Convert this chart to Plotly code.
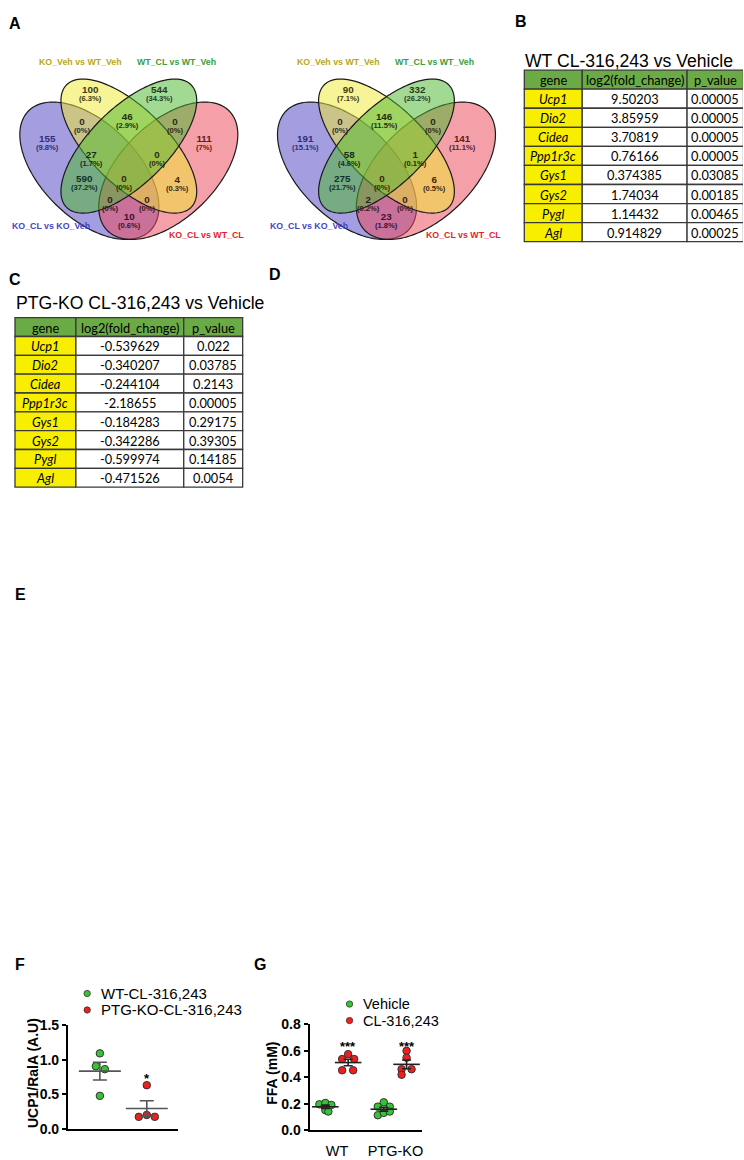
import numpy as np
import plotly.graph_objects as go

W, H = 744, 1160

# ---------------- DATA ----------------
venn_titles = ["KO_Veh vs WT_Veh", "WT_CL vs WT_Veh", "KO_CL vs KO_Veh", "KO_CL vs WT_CL"]
# region order: Y, G, P∩Y, Y∩G, G∩R, P, R, P∩Y∩G, Y∩G∩R, all, P∩G, Y∩R, P∩G∩R, P∩Y∩R, P∩R
venn1_counts = [100, 544, 0, 46, 0, 155, 111, 27, 0, 0, 590, 4, 0, 0, 10]
venn2_counts = [90, 332, 0, 146, 0, 191, 141, 58, 1, 0, 275, 6, 2, 0, 23]

table_header = ["gene", "log2(fold_change)", "p_value"]
genes = ["Ucp1", "Dio2", "Cidea", "Ppp1r3c", "Gys1", "Gys2", "Pygl", "Agl"]
wt_log2fc = [9.50203, 3.85959, 3.70819, 0.76166, 0.374385, 1.74034, 1.14432, 0.914829]
wt_pval = [0.00005, 0.00005, 0.00005, 0.00005, 0.03085, 0.00185, 0.00465, 0.00025]
ko_log2fc = [-0.539629, -0.340207, -0.244104, -2.18655, -0.184283, -0.342286, -0.599974, -0.471526]
ko_pval = [0.022, 0.03785, 0.2143, 0.00005, 0.29175, 0.39305, 0.14185, 0.0054]
wt_title = "WT CL-316,243 vs Vehicle"
ko_title = "PTG-KO CL-316,243 vs Vehicle"

f_series = ["WT-CL-316,243", "PTG-KO-CL-316,243"]
ucp1_wt_cl = [1.09, 0.906, 0.863, 0.48]
ucp1_ko_cl = [0.633, 0.179, 0.206, 0.179]
f_ylabel = "UCP1/RalA (A.U)"

g_categories = ["WT", "PTG-KO"]
g_series = ["Vehicle", "CL-316,243"]
ffa_wt_veh = [0.195, 0.205, 0.19, 0.15, 0.14]
ffa_wt_cl = [0.575, 0.538, 0.538, 0.453, 0.453]
ffa_ko_veh = [0.21, 0.177, 0.177, 0.112, 0.13, 0.14]
ffa_ko_cl = [0.60, 0.548, 0.461, 0.461, 0.419]
g_ylabel = "FFA (mM)"

# ---------------- STYLE / LAYOUT CONSTANTS ----------------
ARIAL = "Liberation Sans, Arial, sans-serif"
CALIBRI = "Lato, Liberation Sans, sans-serif"
GREEN = "#33c633"
RED = "#ee1f1f"
HEADER_GREEN = "#6aab46"
CELL_YELLOW = "#f7ee00"
GRID = "#3a3a3a"


def px_x(v):
    return v / W


def px_y(v):
    return 1 - v / H


fig = go.Figure()
# overlay axis in page-pixel units (venn shapes, tables, labels)
fig.add_trace(go.Scatter(x=[], y=[], xaxis="x3", yaxis="y3", showlegend=False))

shapes = []
annotations = []

# ---------------- VENN DIAGRAMS ----------------
def ellipse_path(cx, cy, a, b, ang_deg, n=160):
    t = np.linspace(0, 2 * np.pi, n, endpoint=False)
    ang = np.radians(ang_deg)
    x = cx + a * np.cos(t) * np.cos(ang) - b * np.sin(t) * np.sin(ang)
    y = cy + a * np.cos(t) * np.sin(ang) + b * np.sin(t) * np.cos(ang)
    return "M " + " L ".join(f"{xx:.2f},{yy:.2f}" for xx, yy in zip(x, y)) + " Z"


# (dx from centre, cy, a, b, angle, fill)
ellipses = [
    (-39.5, 165, 86, 48, 45, "rgba(80,68,195,0.52)"),    # KO_CL vs KO_Veh (purple)
    (39.5, 165, 86, 48, -45, "rgba(235,72,88,0.52)"),    # KO_CL vs WT_CL (red)
    (0, 140, 88, 38.7, 45, "rgba(240,232,55,0.52)"),     # KO_Veh vs WT_Veh (yellow)
    (0, 140, 88, 38.7, -45, "rgba(78,185,48,0.52)"),     # WT_CL vs WT_Veh (green)
]
label_dx = [-38, 31, -46, -1.5, 47, -81, 76, -37, 29, -4, -44, 48.5, -18, 19, 0.5]
label_y = [83, 83, 115, 110, 115, 132, 132, 149, 149, 173, 173, 174, 194, 194, 211]
label_col = ["#3a3a10", "#1f3a1f", "#2a2a2a", "#1f2f10", "#2a2a10", "#2e2e80", "#5a2020",
             "#1a2a1a", "#2a2a10", "#2a2a10", "#10302a", "#3a2a10", "#2a1a1a", "#3a1a1a", "#3a1030"]
title_pos = [(-48, 55), (48, 55), (-78, 221), (77.5, 230)]
title_col = ["#b8a818", "#3a9e3a", "#4646c4", "#e41f2a"]

for m, counts in [(129, venn1_counts), (387, venn2_counts)]:
    for dx, cy, a, b, ang, fill in ellipses:
        shapes.append(dict(type="path", xref="x3", yref="y3",
                           path=ellipse_path(m + dx, cy, a, b, ang),
                           fillcolor=fill, line=dict(color="#1a1a1a", width=1.2)))
    total = sum(counts)
    for c, dx, y, col in zip(counts, label_dx, label_y, label_col):
        pct = round(100 * c / total, 1)
        txt = (f"<b><span style='font-size:9.8px'>{c}</span><br>"
               f"<span style='font-size:7.6px'>({pct:g}%)</span></b>")
        annotations.append(dict(x=m + dx, y=y + 4, xref="x3", yref="y3", text=txt,
                                showarrow=False, borderpad=0,
                                font=dict(family=ARIAL, size=6.3, color=col)))
    for t, (dx, y), col in zip(venn_titles, title_pos, title_col):
        annotations.append(dict(x=m + dx, y=y, xref="x3", yref="y3", text=f"<b>{t}</b>",
                                showarrow=False, font=dict(family=ARIAL, size=8.8, color=col)))

# ---------------- TABLES (drawn as cells) ----------------
def fmt_p(v):
    return f"{v:.5f}".rstrip("0")


def draw_table(xedges, y0, rowh, fc, pv):
    rows = [table_header] + [[f"<i>{g}</i>", repr(a), fmt_p(b)] for g, a, b in zip(genes, fc, pv)]
    for r, row in enumerate(rows):
        ytop = y0 + r * rowh
        for c, txt in enumerate(row):
            fill = HEADER_GREEN if r == 0 else (CELL_YELLOW if c == 0 else "white")
            shapes.append(dict(type="rect", xref="x3", yref="y3", x0=xedges[c], x1=xedges[c + 1],
                               y0=ytop, y1=ytop + rowh, fillcolor=fill,
                               line=dict(color=GRID, width=1.3)))
            annotations.append(dict(x=(xedges[c] + xedges[c + 1]) / 2, y=ytop + rowh / 2 + 0.5,
                                    xref="x3", yref="y3", text=txt, showarrow=False, borderpad=0,
                                    font=dict(family=CALIBRI, size=12.8, color="black")))


draw_table([525, 583, 688, 744.5], 63, 19.33, wt_log2fc, wt_pval)
draw_table([15, 76, 184, 243], 314, 19.1, ko_log2fc, ko_pval)

annotations.append(dict(x=524, y=54, xref="x3", yref="y3", xanchor="left", text=wt_title,
                        showarrow=False, font=dict(family=ARIAL, size=17.6, color="black")))
annotations.append(dict(x=14, y=299, xref="x3", yref="y3", xanchor="left", text=ko_title,
                        showarrow=False, font=dict(family=ARIAL, size=17.6, color="black")))

# ---------------- PANEL LABELS ----------------
for lab, x, y in [("A", 15.5, 15.5), ("B", 522, 13.5), ("C", 15.5, 275.5), ("D", 275.5, 270.5),
                  ("E", 21, 594.5), ("F", 20, 970), ("G", 260, 970)]:
    annotations.append(dict(x=x, y=y, xref="x3", yref="y3", text=f"<b>{lab}</b>", showarrow=False,
                            font=dict(family=ARIAL, size=16, color="black")))

# ---------------- PANEL F ----------------
f_px_per_unit = 47
f_jitter = [[0, -4, 5, 0], [0, -8, 0, 8]]
for gi, (vals, col) in enumerate([(ucp1_wt_cl, GREEN), (ucp1_ko_cl, RED)]):
    xs = [gi + 1 + j / f_px_per_unit for j in f_jitter[gi]]
    fig.add_trace(go.Scatter(x=xs, y=vals, mode="markers", xaxis="x", yaxis="y", showlegend=False,
                             cliponaxis=False,
                             marker=dict(size=7.5, color=col, line=dict(color="#333", width=1))))
    mean = float(np.mean(vals))
    sem = float(np.std(vals, ddof=1) / np.sqrt(len(vals)))
    fig.add_trace(go.Scatter(x=[gi + 1], y=[mean], mode="markers", xaxis="x", yaxis="y",
                             showlegend=False, cliponaxis=False,
                             marker=dict(symbol="line-ew", size=30, color="#555",
                                         line=dict(color="#555", width=1.6)),
                             error_y=dict(type="data", array=[sem], color="#555", thickness=1.6, width=7)))
annotations.append(dict(x=2, y=max(ucp1_ko_cl) + 0.1, xref="x", yref="y", text="<b>*</b>",
                        showarrow=False, font=dict(family=ARIAL, size=13, color="black")))

# ---------------- PANEL G ----------------
g_px_per_unit = 58.5
g_off = [-0.2, 0.19]
g_data = [[ffa_wt_veh, ffa_wt_cl], [ffa_ko_veh, ffa_ko_cl]]
g_jitter = [[[-6, 0, 6, 0, 3], [0, -6, 6, -6, 5]], [[0, -6, 6, -6, 0, 6], [0, 0, -5, 5, -5]]]
for ci in range(2):
    for si, col in enumerate([GREEN, RED]):
        vals = g_data[ci][si]
        base = ci + 1 + g_off[si]
        xs = [base + j / g_px_per_unit for j in g_jitter[ci][si]]
        fig.add_trace(go.Scatter(x=xs, y=vals, mode="markers", xaxis="x2", yaxis="y2", showlegend=False,
                                 cliponaxis=False,
                                 marker=dict(size=7.5, color=col, line=dict(color="#333", width=1))))
        mean = float(np.mean(vals))
        sem = float(np.std(vals, ddof=1) / np.sqrt(len(vals)))
        fig.add_trace(go.Scatter(x=[base], y=[mean], mode="markers", xaxis="x2", yaxis="y2",
                                 showlegend=False, cliponaxis=False,
                                 marker=dict(symbol="line-ew", size=19, color="#222",
                                             line=dict(color="#222", width=1.6)),
                                 error_y=dict(type="data", array=[sem], color="#222", thickness=1.6, width=4.5)))
star_y = max(max(ffa_wt_cl), max(ffa_ko_cl)) + 0.035
for ci in range(2):
    annotations.append(dict(x=ci + 1 + g_off[1], y=star_y, xref="x2", yref="y2", text="<b>***</b>",
                            showarrow=False, font=dict(family=ARIAL, size=13, color="black")))

# ---------------- LEGENDS (F, G) & AXIS TITLES ----------------
for names, x0, ys, fsize in [(f_series, 87.3, [999.3, 1016], 15), (g_series, 350, [1010, 1026.7], 14.5)]:
    for name, y, col in zip(names, ys, [GREEN, RED]):
        shapes.append(dict(type="circle", xref="x3", yref="y3", x0=x0 - 3.2, x1=x0 + 3.2,
                           y0=y - 3.2, y1=y + 3.2, fillcolor=col, line=dict(color="#333", width=0.8)))
        annotations.append(dict(x=x0 + 11.5, y=y, xref="x3", yref="y3", xanchor="left", text=name,
                                showarrow=False, font=dict(family=ARIAL, size=fsize, color="black")))

annotations.append(dict(x=33, y=1080, xref="x3", yref="y3", text=f"<b>{f_ylabel}</b>", textangle=-90,
                        showarrow=False, font=dict(family=ARIAL, size=14, color="black")))
annotations.append(dict(x=272, y=1080, xref="x3", yref="y3", text=f"<b>{g_ylabel}</b>", textangle=-90,
                        showarrow=False, font=dict(family=ARIAL, size=14, color="black")))

yax_common = dict(showline=True, linewidth=2, linecolor="black", ticks="outside", ticklen=4,
                  tickwidth=2, tickcolor="black", showgrid=False, zeroline=False, tickformat=".1f",
                  tickfont=dict(family=ARIAL, size=14, color="black", weight="bold"), fixedrange=True)

fig.update_layout(
    width=W, height=H, margin=dict(l=0, r=0, t=0, b=0),
    paper_bgcolor="white", plot_bgcolor="rgba(0,0,0,0)",
    showlegend=False,
    xaxis=dict(domain=[px_x(68), px_x(178)], range=[1 - 32 / 47, 1 + 78 / 47], anchor="y",
               showline=True, linewidth=2, linecolor="black", showticklabels=False, ticks="",
               showgrid=False, zeroline=False, fixedrange=True),
    yaxis=dict(domain=[px_y(1137), px_y(1031)], range=[0, 1.5], dtick=0.5, anchor="x", **yax_common),
    xaxis2=dict(domain=[px_x(310), px_x(423)], range=[1 - 27.5 / 58.5, 1 + 85.5 / 58.5], anchor="y2",
                showline=True, linewidth=2, linecolor="black", tickvals=[1, 2], ticktext=g_categories,
                ticks="outside", ticklen=7, tickcolor="rgba(0,0,0,0)",
                tickfont=dict(family=ARIAL, size=14.5, color="black"),
                showgrid=False, zeroline=False, fixedrange=True),
    yaxis2=dict(domain=[px_y(1137.7), px_y(1030.7)], range=[0, 0.8], dtick=0.2, anchor="x2", **yax_common),
    xaxis3=dict(domain=[0, 1], range=[0, W], anchor="y3", visible=False, fixedrange=True),
    yaxis3=dict(domain=[0, 1], range=[H, 0], anchor="x3", visible=False, fixedrange=True),
    shapes=shapes,
    annotations=annotations,
)

fig.write_html("out.html")
